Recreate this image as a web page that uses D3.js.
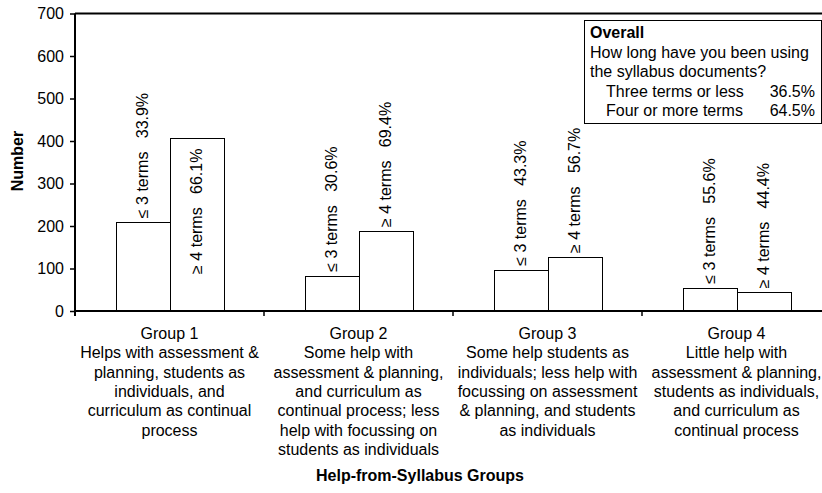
<!DOCTYPE html>
<html>
<head>
<meta charset="utf-8">
<script src="https://cdn.jsdelivr.net/npm/d3@7"></script>
<style>
  html, body { margin: 0; padding: 0; background: #fff; }
  svg { display: block; font-family: Arial, "Liberation Sans", sans-serif; }
</style>
</head>
<body>
<svg id="chart" width="822" height="493"></svg>
<script>
// Help-from-Syllabus groups, split by how long the syllabus has been in use
const groups = ["Group 1", "Group 2", "Group 3", "Group 4"];
const groupDescriptions = [
  ["Helps with assessment &", "planning, students as", "individuals, and", "curriculum as continual", "process"],
  ["Some help with", "assessment & planning,", "and curriculum as", "continual process; less", "help with focussing on", "students as individuals"],
  ["Some help students as", "individuals; less help with", "focussing on assessment", "& planning, and students", "as individuals"],
  ["Little help with", "assessment & planning,", "students as individuals,", "and curriculum as", "continual process"]
];
const seriesNames = ["≤ 3 terms", "≥ 4 terms"];
const threeOrLess = [209, 83, 97, 55];
const fourOrMore = [408, 188, 127, 44];
const yTicks = [0, 100, 200, 300, 400, 500, 600, 700];

const legendTitle = "Overall";
const legendQuestion = ["How long have you been using", "the syllabus documents?"];
const legendRows = ["Three terms or less", "Four or more terms"];
const legendValues = ["36.5%", "64.5%"];

const yTitle = "Number";
const xTitle = "Help-from-Syllabus Groups";

const svg = d3.select("#chart");
const plotLeft = 75, plotRight = 831, plotTop = 13.5, plotBottom = 311;

const x = d3.scaleBand().domain(groups).range([plotLeft, plotRight]).padding(0);
const xs = d3.scaleBand().domain(seriesNames).range([0, x.bandwidth()])
  .paddingInner(0).paddingOuter(0.75);
const y = d3.scaleLinear().domain([0, 700]).range([plotBottom, plotTop]);

const rows = groups.map((g, i) => ({ group: g, values: [threeOrLess[i], fourOrMore[i]] }));
const fmt = d3.format(".1f");
const barData = d => d.values.map((v, j) => ({ name: seriesNames[j], value: v, total: d3.sum(d.values) }));

// bars
const gGroups = svg.append("g").selectAll("g").data(rows).join("g")
  .attr("transform", d => `translate(${x(d.group)},0)`);

gGroups.selectAll("rect")
  .data(barData)
  .join("rect")
  .attr("x", d => Math.round(xs(d.name)) + 0.5)
  .attr("y", d => Math.round(y(d.value)) + 0.5)
  .attr("width", Math.round(xs.bandwidth()))
  .attr("height", d => Math.round(y(0)) - Math.round(y(d.value)))
  .attr("fill", "#fff")
  .attr("stroke", "#000")
  .attr("stroke-width", 1);

// vertical value labels: series name and share within the group
gGroups.selectAll("text.lbl")
  .data(barData)
  .join("text")
  .attr("class", "lbl")
  .each(function (d) {
    const cx = xs(d.name) + xs.bandwidth() / 2;
    const inside = y(d.value) < 150;
    const yy = inside ? y(d.value) + 11 : y(d.value) - 4;
    d3.select(this)
      .attr("transform", `translate(${cx},${yy}) rotate(-90)`)
      .attr("text-anchor", inside ? "end" : "start")
      .attr("dy", "0.35em");
  })
  .attr("font-size", 16)
  .attr("fill", "#000")
  .style("white-space", "pre")
  .text(d => `${d.name}   ${fmt(d.value / d.total * 100)}%`);

// top frame line
svg.append("line")
  .attr("x1", plotLeft).attr("x2", plotRight)
  .attr("y1", plotTop).attr("y2", plotTop)
  .attr("stroke", "#000").attr("stroke-width", 2);

// y axis
const yAxis = svg.append("g")
  .attr("transform", `translate(${plotLeft},0)`)
  .call(d3.axisLeft(y).tickValues(yTicks).tickSize(5).tickPadding(6));
yAxis.select(".domain").attr("stroke", "#000").attr("stroke-width", 2)
  .attr("d", `M0,${plotTop}V${plotBottom + 5}`);
yAxis.selectAll(".tick line").attr("stroke", "#000").attr("stroke-width", 1.5);
yAxis.selectAll(".tick text").attr("font-size", 16).attr("fill", "#000")
  .attr("font-family", "Arial, 'Liberation Sans', sans-serif");

// x axis with boundaries between groups
const xAxisG = svg.append("g").attr("transform", `translate(0,${plotBottom})`);
xAxisG.append("line")
  .attr("x1", plotLeft).attr("x2", plotRight)
  .attr("y1", 0).attr("y2", 0)
  .attr("stroke", "#000").attr("stroke-width", 2);
xAxisG.selectAll("line.tk").data(groups.slice(1)).join("line")
  .attr("class", "tk")
  .attr("x1", d => x(d)).attr("x2", d => x(d))
  .attr("y1", 0).attr("y2", 5)
  .attr("stroke", "#000").attr("stroke-width", 1.5);

// group names and descriptions
const catText = svg.append("g").selectAll("text").data(groups).join("text")
  .attr("text-anchor", "middle")
  .attr("font-size", 16)
  .attr("fill", "#000");
catText.each(function (g, i) {
  const lines = [g].concat(groupDescriptions[i]);
  d3.select(this).selectAll("tspan").data(lines).join("tspan")
    .attr("x", x(g) + x.bandwidth() / 2)
    .attr("y", (d, k) => 339 + k * 19.3)
    .text(d => d);
});

// axis titles
svg.append("text")
  .attr("x", 420).attr("y", 481)
  .attr("text-anchor", "middle")
  .attr("font-size", 16).attr("font-weight", "bold")
  .text(xTitle);

svg.append("text")
  .attr("transform", `translate(23,161) rotate(-90)`)
  .attr("text-anchor", "middle")
  .attr("font-size", 16).attr("font-weight", "bold")
  .text(yTitle);

// overall legend box
const lg = svg.append("g");
lg.append("rect")
  .attr("x", 584.5).attr("y", 20.5).attr("width", 237).attr("height", 103)
  .attr("fill", "#fff").attr("stroke", "#000").attr("stroke-width", 1);
lg.append("text").attr("x", 590).attr("y", 38)
  .attr("font-size", 16).attr("font-weight", "bold").text(legendTitle);
legendQuestion.forEach((t, k) => {
  lg.append("text").attr("x", 590).attr("y", 57.5 + k * 19.5)
    .attr("font-size", 16).text(t);
});
legendRows.forEach((t, k) => {
  lg.append("text").attr("x", 606).attr("y", 96.5 + k * 19.5)
    .attr("font-size", 16).text(t);
  lg.append("text").attr("x", 815).attr("y", 96.5 + k * 19.5)
    .attr("text-anchor", "end")
    .attr("font-size", 16).text(legendValues[k]);
});
</script>
</body>
</html>
